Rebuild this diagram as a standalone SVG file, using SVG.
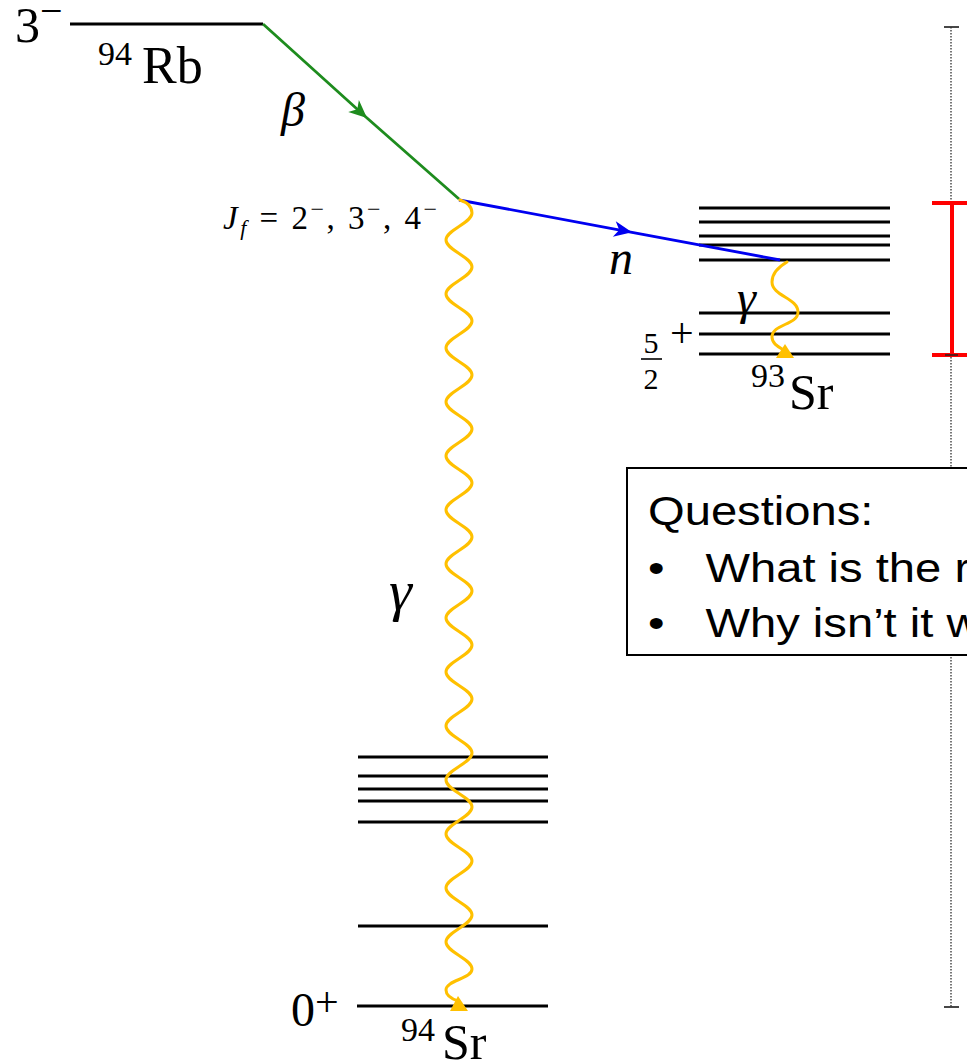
<svg xmlns="http://www.w3.org/2000/svg" width="967" height="1064" viewBox="0 0 967 1064">
<style>
.lvl{stroke:#000;stroke-width:3;fill:none}
.tx{font-family:"Liberation Serif","DejaVu Serif",serif;fill:#000}
.it{font-style:italic}
.wave{fill:none;stroke:#FFC000;stroke-width:3;stroke-linecap:round}
.sans{font-family:"Liberation Sans",Arial,sans-serif;font-size:41px;fill:#000}
</style>
<defs>
<marker id="arrG" markerUnits="userSpaceOnUse" markerWidth="26" markerHeight="26" viewBox="-20 -13 26 26" refX="0" refY="0" orient="auto">
<path d="M0,0 L-18,-8 L-13,0 L-18,8 Z" fill="#1E8C1E"/>
</marker>
<marker id="arrB" markerUnits="userSpaceOnUse" markerWidth="26" markerHeight="26" viewBox="-20 -13 26 26" refX="0" refY="0" orient="auto">
<path d="M0,0 L-18,-8 L-13,0 L-18,8 Z" fill="#0000F0"/>
</marker>
</defs>
<rect width="967" height="1064" fill="#fff"/>

<g id="scale-bar">
<line x1="951" y1="27" x2="951" y2="1007" stroke="#555" stroke-width="1.6" stroke-dasharray="1.5,1.5"/>
<line x1="944" y1="27" x2="959" y2="27" stroke="#333" stroke-width="1.8"/>
<line x1="944" y1="1007" x2="959" y2="1007" stroke="#333" stroke-width="1.8"/>
</g>
<g id="red-bar" stroke="#FF0000" stroke-width="4">
<line x1="952" y1="203" x2="952" y2="355"/>
<line x1="932" y1="203" x2="970" y2="203"/>
<line x1="932" y1="355" x2="970" y2="355"/>
<line x1="945" y1="355" x2="958" y2="355" stroke="#222" stroke-width="1.5"/>
</g>

<g id="rb94">
<line class="lvl" x1="70" y1="24" x2="263" y2="24"/>
<text class="tx" x="15" y="42" font-size="50">3<tspan font-size="40" dy="-18">−</tspan></text>
<text class="tx" x="98" y="65" font-size="34">94</text>
<text class="tx" x="142" y="83" font-size="52">Rb</text>
</g>

<g id="sr94">
<line class="lvl" x1="358" y1="757" x2="548" y2="757"/>
<line class="lvl" x1="358" y1="776" x2="548" y2="776"/>
<line class="lvl" x1="358" y1="789" x2="548" y2="789"/>
<line class="lvl" x1="358" y1="801" x2="548" y2="801"/>
<line class="lvl" x1="358" y1="822" x2="548" y2="822"/>
<line class="lvl" x1="358" y1="926" x2="548" y2="926"/>
<line class="lvl" x1="357" y1="1006" x2="548" y2="1006"/>
<text class="tx" x="291" y="1026" font-size="48">0<tspan font-size="42" dy="-10">+</tspan></text>
<text class="tx" x="401" y="1041" font-size="34">94</text>
<text class="tx" x="442" y="1059" font-size="50">Sr</text>
</g>

<g id="sr93">
<line class="lvl" x1="699" y1="208" x2="890" y2="208"/>
<line class="lvl" x1="699" y1="222" x2="890" y2="222"/>
<line class="lvl" x1="699" y1="236" x2="890" y2="236"/>
<line class="lvl" x1="699" y1="245" x2="890" y2="245"/>
<line class="lvl" x1="699" y1="260" x2="890" y2="260"/>
<line class="lvl" x1="699" y1="313" x2="890" y2="313"/>
<line class="lvl" x1="699" y1="334" x2="890" y2="334"/>
<line class="lvl" x1="699" y1="354" x2="890" y2="354"/>
<text class="tx" x="651" y="353" font-size="30" text-anchor="middle">5</text>
<line x1="641" y1="359" x2="662" y2="359" stroke="#000" stroke-width="1.6"/>
<text class="tx" x="651" y="389" font-size="30" text-anchor="middle">2</text>
<text class="tx" x="670" y="347" font-size="42">+</text>
<text class="tx" x="751" y="387" font-size="34">93</text>
<text class="tx" x="789" y="409" font-size="50">Sr</text>
</g>

<g id="state-label">
<text class="tx" x="223" y="229" font-size="33" textLength="214" lengthAdjust="spacing"><tspan class="it">J</tspan><tspan class="it" font-size="22" dy="6">f</tspan><tspan dy="-6"> = 2</tspan><tspan font-size="24" dy="-12">−</tspan><tspan dy="12">, 3</tspan><tspan font-size="24" dy="-12">−</tspan><tspan dy="12">, 4</tspan><tspan font-size="24" dy="-12">−</tspan></text>
</g>

<g id="connectors">
<path d="M263,24 L367,118 L459,199" fill="none" stroke="#1E8C1E" stroke-width="2.8" marker-mid="url(#arrG)"/>
<path d="M459,200 L632,232.3 L780,260" fill="none" stroke="#0000F0" stroke-width="2.8" marker-mid="url(#arrB)"/>
<path class="wave" d="M460,200 C466,202 472,206 472,213 c0,10 -26,17 -26,27 s26,17 26,27 s-26,17 -26,27 s26,17 26,27 s-26,17 -26,27 s26,17 26,27 s-26,17 -26,27 s26,17 26,27 s-26,17 -26,27 s26,17 26,27 s-26,17 -26,27 s26,17 26,27 s-26,17 -26,27 s26,17 26,27 s-26,17 -26,27 s26,17 26,27 s-26,17 -26,27 s26,17 26,27 s-26,17 -26,27 s26,17 26,27 s-26,17 -26,27 s26,17 26,27 s-26,17 -26,27 s26,17 26,27 s-26,17 -26,27 s26,17 26,27 s-26,17 -26,27 s26,17 26,27 s-26,11 -26,21 c0,6 6,9 12,11"/>
<polygon points="450,1011 468,1011 458,996" fill="#FFC000"/>
<path class="wave" d="M787,262 C780,266 772,272 772,282 C772,296 798,298 798,312 C798,325 772,324 772,337 C772,343 777,346 782,349"/>
<polygon points="776,358 794,358 785,344" fill="#FFC000"/>
<text class="tx it" x="281" y="126" font-size="48" fill="#1E8C1E">β</text>
<text class="tx it" x="609" y="274" font-size="48" fill="#0000F0">n</text>
<text class="tx it" x="389" y="610" font-size="58" fill="#FFC000">γ</text>
<text class="tx it" x="737" y="314" font-size="48" fill="#FFC000">γ</text>
</g>

<g id="questions">
<rect x="627" y="468" width="360" height="187" fill="#fff" stroke="#000" stroke-width="2"/>
<g transform="translate(648,0) scale(1.15,1)">
<text class="sans" x="0" y="525">Questions:</text>
<text class="sans" x="0" y="582">•</text>
<text class="sans" x="50" y="582">What is the r</text>
<text class="sans" x="0" y="637">•</text>
<text class="sans" x="50" y="637">Why isn’t it w</text>
</g>
</g>
</svg>
